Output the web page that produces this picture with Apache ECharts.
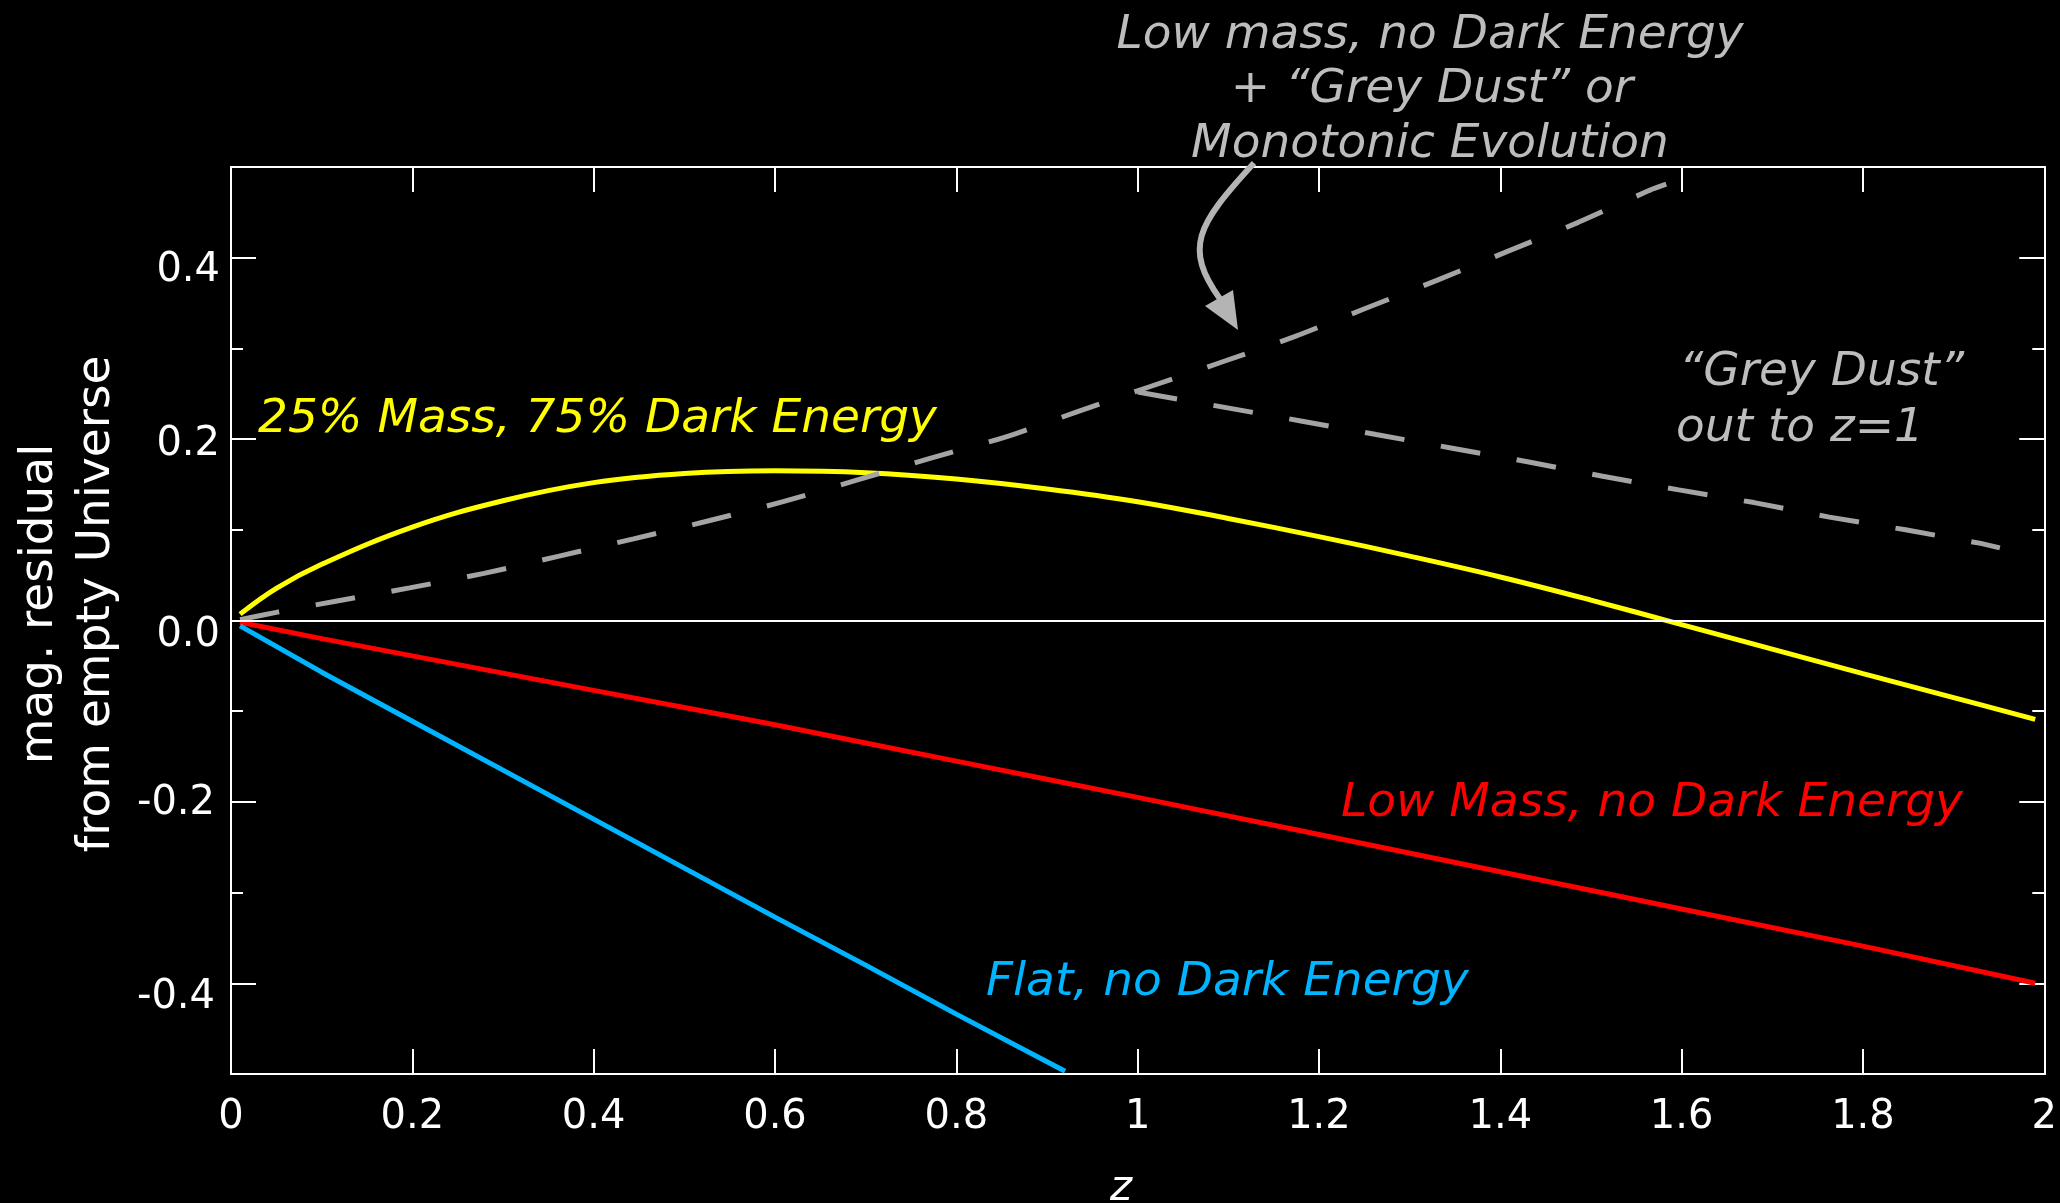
<!DOCTYPE html>
<html>
<head>
<meta charset="utf-8">
<title>Magnitude residuals vs redshift</title>
<script src="https://cdn.jsdelivr.net/npm/echarts@6/dist/echarts.min.js"></script>
<style>
  html, body { margin: 0; padding: 0; background: #000; }
  #chart { width: 2060px; height: 1203px; }
</style>
</head>
<body>
<div id="chart"></div>
<script>
// Magnitude residual (relative to an empty universe) as a function of redshift z.
// Each curve is a list of [z, residual] pairs.
const lambdaModel = [
  [0.01, 0.007], [0.05, 0.0355], [0.1, 0.062], [0.2, 0.103], [0.3, 0.132],
  [0.4, 0.152], [0.5, 0.162], [0.6, 0.165], [0.7, 0.163], [0.8, 0.156],
  [0.9, 0.145], [1.0, 0.131], [1.1, 0.1125], [1.2, 0.0925], [1.3, 0.071],
  [1.4, 0.048], [1.5, 0.0225], [1.6, -0.0045], [1.7, -0.0315], [1.8, -0.0585],
  [1.9, -0.085], [1.99, -0.109]
];
const lowMassModel = [
  [0.01, -0.002], [0.1, -0.020], [0.2, -0.039], [0.3, -0.058], [0.4, -0.077],
  [0.5, -0.096], [0.6, -0.115], [0.7, -0.135], [0.8, -0.155], [0.9, -0.175],
  [1.0, -0.195], [1.2, -0.236], [1.4, -0.277], [1.6, -0.318], [1.8, -0.359],
  [1.99, -0.400]
];
const flatModel = [
  [0.01, -0.006], [0.1, -0.057], [0.2, -0.111], [0.3, -0.165], [0.4, -0.219],
  [0.5, -0.273], [0.6, -0.327], [0.7, -0.380], [0.8, -0.434], [0.92, -0.497]
];
const dustEvolution = [
  [0.01, 0.001], [0.05, 0.009], [0.114, 0.021], [0.197, 0.036], [0.279, 0.052],
  [0.362, 0.071], [0.444, 0.090], [0.527, 0.110], [0.609, 0.131], [0.691, 0.155],
  [0.772, 0.179], [0.853, 0.202], [0.933, 0.230], [1.014, 0.258], [1.093, 0.285],
  [1.173, 0.313], [1.251, 0.344], [1.330, 0.375], [1.408, 0.407], [1.486, 0.439],
  [1.564, 0.474], [1.583, 0.481]
];
const dustToZ1 = [
  [1.0, 0.252], [1.096, 0.235], [1.18, 0.220], [1.263, 0.205], [1.347, 0.190],
  [1.430, 0.175], [1.513, 0.159], [1.597, 0.144], [1.680, 0.130], [1.763, 0.114],
  [1.847, 0.100], [1.930, 0.085], [1.951, 0.080]
];

// Axis ticks
const yMajorTicks = [-0.4, -0.2, 0, 0.2, 0.4];
const yMinorTicks = [-0.3, -0.1, 0.1, 0.3];

const FONT = "'DejaVu Sans', 'Liberation Sans', sans-serif";
const WHITE = '#ffffff';
const GREY_LINE = '#a4a4a4';
const GREY_TEXT = '#bdbdbd';
const CAPTION_SIZE = 47;

const chart = echarts.init(document.getElementById('chart'), null, { renderer: 'canvas' });

function xAxisDef(pos, showLabels) {
  return {
    type: 'value', position: pos, min: 0, max: 2, interval: 0.2,
    axisLine: { show: true, onZero: false, lineStyle: { color: WHITE, width: 2 } },
    axisTick: { show: true, inside: true, length: 25, lineStyle: { color: WHITE, width: 2 } },
    axisLabel: {
      show: showLabels, color: WHITE, fontSize: 40, fontFamily: FONT, margin: 24,
      formatter: v => String(parseFloat(v.toFixed(1)))
    },
    splitLine: { show: false }
  };
}

// per-label nudges of the left tick labels
const yLabelStyle = { color: WHITE, fontSize: 40, fontFamily: FONT };
const yRich = {
  a: Object.assign({ padding: [26, 0, 0, 0] }, yLabelStyle),
  b: Object.assign({ padding: [12, 0, 0, 0] }, yLabelStyle),
  c: Object.assign({ padding: [30, 0, 0, 0] }, yLabelStyle),
  d: Object.assign({ padding: [4, 5, 0, 0] }, yLabelStyle),
  e: Object.assign({ padding: [28, 5, 0, 0] }, yLabelStyle)
};
const yRichKey = { '0.4': 'a', '0.2': 'b', '0.0': 'c', '-0.2': 'd', '-0.4': 'e' };

function yAxisDef(pos, ticks, len, showLabels) {
  return {
    type: 'value', position: pos, min: -0.5, max: 0.5, interval: 0.1,
    axisLine: { show: true, onZero: false, lineStyle: { color: WHITE, width: 2 } },
    axisTick: { show: true, inside: true, length: len, customValues: ticks,
                lineStyle: { color: WHITE, width: 2 } },
    axisLabel: {
      show: showLabels, customValues: ticks, margin: 11,
      color: WHITE, fontSize: 40, fontFamily: FONT,
      formatter: v => {
        const s = (Math.abs(v) < 1e-9 ? 0 : v).toFixed(1);
        return '{' + (yRichKey[s] || 'c') + '|' + s + '}';
      },
      rich: yRich
    },
    splitLine: { show: false }
  };
}

function lineSeries(name, data, color, opts) {
  return Object.assign({
    name: name, type: 'line', data: data, showSymbol: false, symbol: 'none',
    clip: true, silent: true,
    lineStyle: { color: color, width: 5, cap: 'butt' }
  }, opts || {});
}

const dashed = { type: [40, 37], dashOffset: 0 };

function caption(text, x, y, color, align) {
  return {
    type: 'text', x: x, y: y,
    style: { text: text, fill: color, fontSize: CAPTION_SIZE, fontFamily: FONT,
             fontStyle: 'italic', align: align || 'left', verticalAlign: 'middle' }
  };
}

const option = {
  backgroundColor: '#000000',
  animation: false,
  grid: { left: 231, right: 14, top: 167, bottom: 129 },
  xAxis: [xAxisDef('bottom', true), xAxisDef('top', false)],
  yAxis: [
    yAxisDef('left', yMajorTicks, 25, true),
    yAxisDef('left', yMinorTicks, 12, false),
    yAxisDef('right', yMajorTicks, 25, false),
    yAxisDef('right', yMinorTicks, 12, false)
  ],
  series: [
    lineSeries('Low Mass, no Dark Energy', lowMassModel, '#ff0000', {
      markLine: {
        silent: true, symbol: ['none', 'none'], label: { show: false },
        lineStyle: { color: WHITE, width: 2, type: 'solid' },
        data: [{ yAxis: 0 }]
      }
    }),
    lineSeries('Flat, no Dark Energy', flatModel, '#00b4ff'),
    lineSeries('25% Mass, 75% Dark Energy', lambdaModel, '#ffff00', { smooth: 0.4 }),
    lineSeries('Grey Dust or Evolution', dustEvolution, GREY_LINE, {
      smooth: 0.3,
      lineStyle: Object.assign({ color: GREY_LINE, width: 5, cap: 'butt' }, dashed)
    }),
    lineSeries('Grey Dust out to z=1', dustToZ1, GREY_LINE, {
      lineStyle: Object.assign({ color: GREY_LINE, width: 5, cap: 'butt' }, dashed)
    })
  ],
  graphic: [
    // axis titles
    { type: 'text', x: 40, y: 604, rotation: Math.PI / 2,
      style: { text: 'mag. residual', fill: WHITE, fontSize: 47, fontFamily: FONT,
               align: 'center', verticalAlign: 'middle' } },
    { type: 'text', x: 97, y: 604, rotation: Math.PI / 2,
      style: { text: 'from empty Universe', fill: WHITE, fontSize: 47, fontFamily: FONT,
               align: 'center', verticalAlign: 'middle' } },
    { type: 'text', x: 1121, y: 1189,
      style: { text: 'z', fill: WHITE, fontSize: 42, fontFamily: FONT, fontStyle: 'italic',
               align: 'center', verticalAlign: 'middle' } },

    // curve captions
    caption('25% Mass, 75% Dark Energy', 258, 420, '#ffff00'),
    caption('Low Mass, no Dark Energy', 1341, 804, '#ff0000'),
    caption('Flat, no Dark Energy', 986, 983, '#00b4ff'),
    caption('\u201CGrey Dust\u201D', 1679, 373, GREY_TEXT),
    caption('out to z=1', 1676, 429, GREY_TEXT),
    caption('Low mass, no Dark Energy', 1430, 36, GREY_TEXT, 'center'),
    caption('+ \u201CGrey Dust\u201D or', 1432, 90, GREY_TEXT, 'center'),
    caption('Monotonic Evolution', 1430, 145, GREY_TEXT, 'center'),

    // curved pointer from the caption down to the dashed curve
    { type: 'bezierCurve', z: 10,
      shape: { x1: 1254, y1: 163, cpx1: 1196, cpy1: 226, cpx2: 1184, cpy2: 248, x2: 1220, y2: 299 },
      style: { stroke: '#b4b4b4', lineWidth: 6, fill: null } },
    { type: 'polygon', z: 10,
      shape: { points: [[1238, 330], [1205, 306], [1233, 290]] },
      style: { fill: '#b4b4b4' } }
  ]
};

chart.setOption(option);
</script>
</body>
</html>
